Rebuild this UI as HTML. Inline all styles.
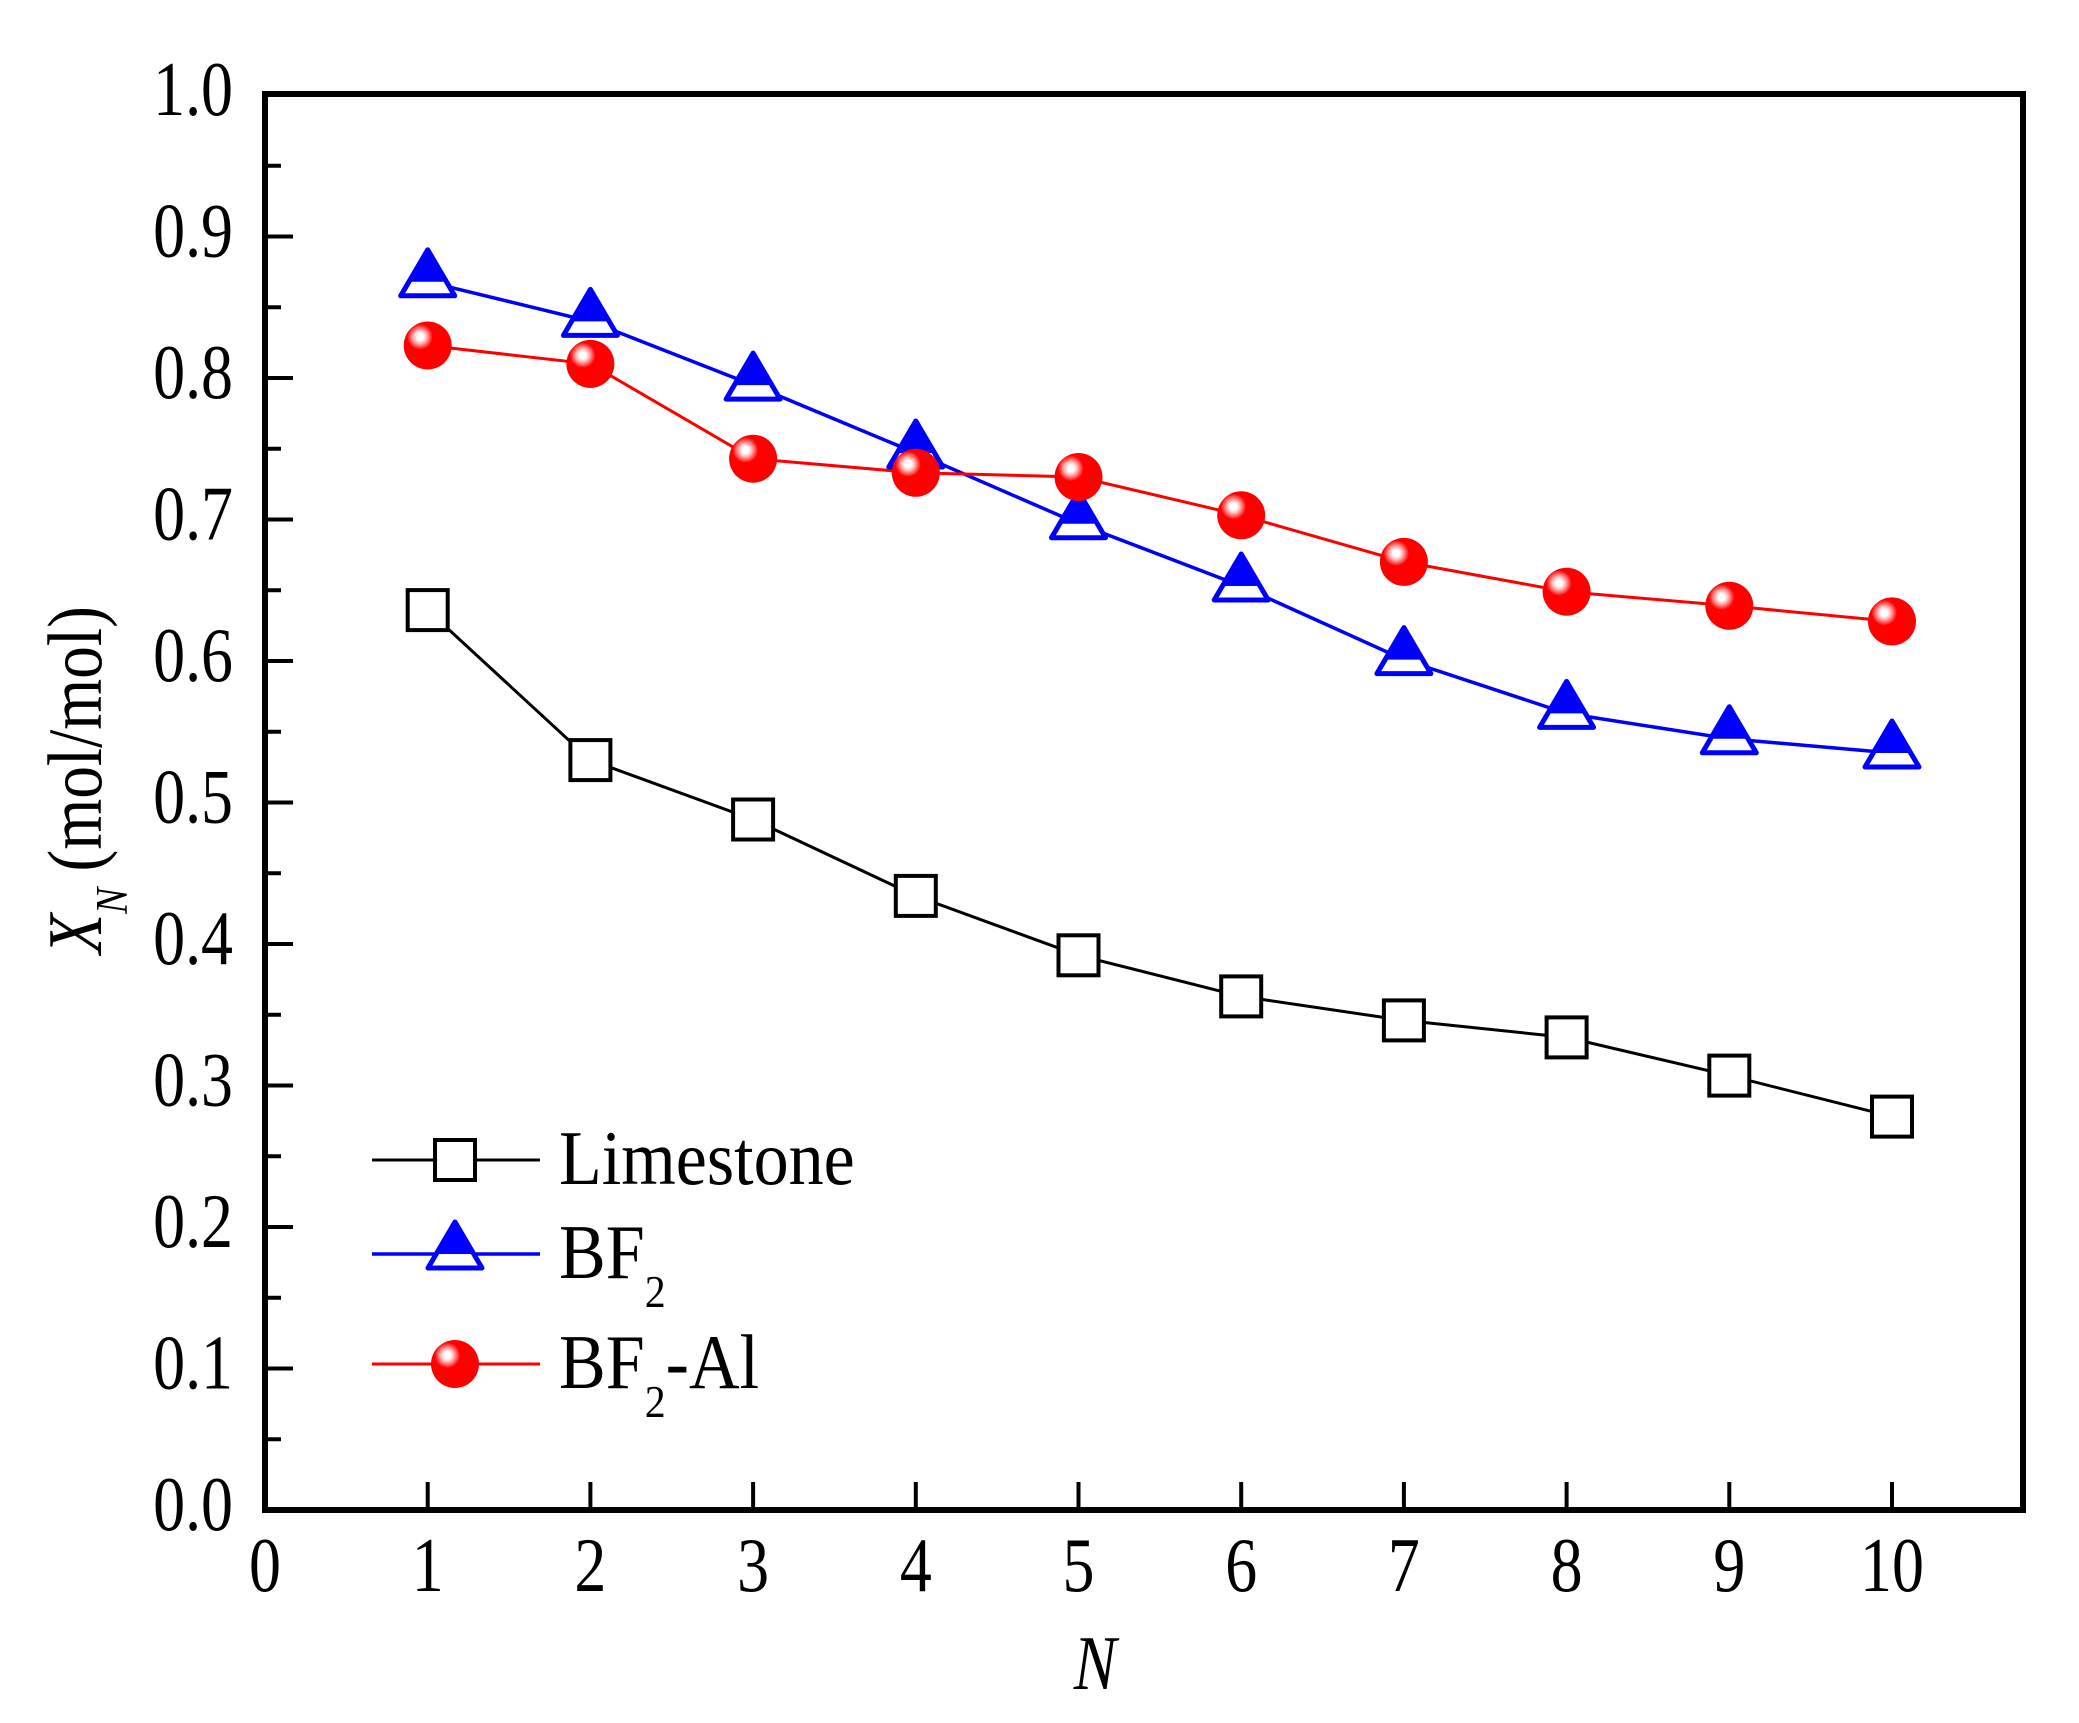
<!DOCTYPE html>
<html><head><meta charset="utf-8"><style>
html,body{margin:0;padding:0;background:#fff}
svg{display:block}
text{font-family:"Liberation Serif",serif;fill:#000}
</style></head><body>
<svg width="2079" height="1723" viewBox="0 0 2079 1723" xmlns="http://www.w3.org/2000/svg">
<defs>
<radialGradient id="g" cx="0.34" cy="0.32" r="0.7" fx="0.34" fy="0.32">
<stop offset="0" stop-color="#fff"/>
<stop offset="0.1" stop-color="#fff"/>
<stop offset="0.2" stop-color="#ffb0b0"/>
<stop offset="0.3" stop-color="#ff5050"/>
<stop offset="0.38" stop-color="#ff0000"/>
<stop offset="1" stop-color="#ff0000"/>
</radialGradient>
<g id="sq"><rect x="-20" y="-20" width="40" height="40" fill="#fff" stroke="#000" stroke-width="4"/></g>
<g id="tri"><polygon points="0,-32 -27,14 27,14" fill="#fff" stroke="#0000ff" stroke-width="5" stroke-linejoin="round"/><polygon points="0,-32 -19,0 19,0" fill="#0000ff"/></g>
<g id="cir"><circle r="24" fill="url(#g)"/></g>
</defs>

<rect x="265" y="94" width="1758" height="1416" fill="none" stroke="#000" stroke-width="6"/>

<g stroke="#000" stroke-width="4">
<line x1="265" y1="1510" x2="293" y2="1510"/><line x1="265" y1="1439.25" x2="281" y2="1439.25"/>
<line x1="265" y1="1368.5" x2="293" y2="1368.5"/><line x1="265" y1="1297.75" x2="281" y2="1297.75"/>
<line x1="265" y1="1227" x2="293" y2="1227"/><line x1="265" y1="1156.25" x2="281" y2="1156.25"/>
<line x1="265" y1="1085.5" x2="293" y2="1085.5"/><line x1="265" y1="1014.75" x2="281" y2="1014.75"/>
<line x1="265" y1="944" x2="293" y2="944"/><line x1="265" y1="873.25" x2="281" y2="873.25"/>
<line x1="265" y1="802.5" x2="293" y2="802.5"/><line x1="265" y1="731.75" x2="281" y2="731.75"/>
<line x1="265" y1="661" x2="293" y2="661"/><line x1="265" y1="590.25" x2="281" y2="590.25"/>
<line x1="265" y1="519.5" x2="293" y2="519.5"/><line x1="265" y1="448.75" x2="281" y2="448.75"/>
<line x1="265" y1="378" x2="293" y2="378"/><line x1="265" y1="307.25" x2="281" y2="307.25"/>
<line x1="265" y1="236.5" x2="293" y2="236.5"/><line x1="265" y1="165.75" x2="281" y2="165.75"/>
</g>
<g stroke="#000" stroke-width="4">
<line x1="427.7" y1="1510" x2="427.7" y2="1482"/><line x1="590.4" y1="1510" x2="590.4" y2="1482"/>
<line x1="753.1" y1="1510" x2="753.1" y2="1482"/><line x1="915.8" y1="1510" x2="915.8" y2="1482"/>
<line x1="1078.5" y1="1510" x2="1078.5" y2="1482"/><line x1="1241.2" y1="1510" x2="1241.2" y2="1482"/>
<line x1="1403.9" y1="1510" x2="1403.9" y2="1482"/><line x1="1566.6" y1="1510" x2="1566.6" y2="1482"/>
<line x1="1729.3" y1="1510" x2="1729.3" y2="1482"/><line x1="1892" y1="1510" x2="1892" y2="1482"/>
</g>

<g font-size="77" text-anchor="end">
<text transform="translate(233,1530) scale(0.83,1)">0.0</text>
<text transform="translate(233,1388.5) scale(0.83,1)">0.1</text>
<text transform="translate(233,1247) scale(0.83,1)">0.2</text>
<text transform="translate(233,1105.5) scale(0.83,1)">0.3</text>
<text transform="translate(233,964) scale(0.83,1)">0.4</text>
<text transform="translate(233,822.5) scale(0.83,1)">0.5</text>
<text transform="translate(233,681) scale(0.83,1)">0.6</text>
<text transform="translate(233,539.5) scale(0.83,1)">0.7</text>
<text transform="translate(233,398) scale(0.83,1)">0.8</text>
<text transform="translate(233,256.5) scale(0.83,1)">0.9</text>
<text transform="translate(233,115) scale(0.83,1)">1.0</text>
</g>
<g font-size="77" text-anchor="middle">
<text transform="translate(265,1591) scale(0.83,1)">0</text>
<text transform="translate(427.7,1591) scale(0.83,1)">1</text>
<text transform="translate(590.4,1591) scale(0.83,1)">2</text>
<text transform="translate(753.1,1591) scale(0.83,1)">3</text>
<text transform="translate(915.8,1591) scale(0.83,1)">4</text>
<text transform="translate(1078.5,1591) scale(0.83,1)">5</text>
<text transform="translate(1241.2,1591) scale(0.83,1)">6</text>
<text transform="translate(1403.9,1591) scale(0.83,1)">7</text>
<text transform="translate(1566.6,1591) scale(0.83,1)">8</text>
<text transform="translate(1729.3,1591) scale(0.83,1)">9</text>
<text transform="translate(1892,1591) scale(0.83,1)">10</text>
</g>

<text transform="translate(1095,1689) scale(0.83,1)" font-size="77" font-style="italic" text-anchor="middle">N</text>
<text transform="translate(101,780) rotate(-90) scale(0.85,1)" font-size="77" text-anchor="middle"><tspan font-style="italic">X</tspan><tspan font-style="italic" font-size="46" dy="26">N</tspan><tspan dy="-26"> (mol/mol)</tspan></text>

<polyline fill="none" stroke="#000" stroke-width="3" points="427.7,610.1 590.4,760.1 753.1,819.5 915.8,895.9 1078.5,955.3 1241.2,996.4 1403.9,1020.4 1566.6,1037.4 1729.3,1075.6 1892,1116.6"/>
<polyline fill="none" stroke="#0000ff" stroke-width="3.5" points="427.7,281.8 590.4,321.4 753.1,385.1 915.8,453 1078.5,523.7 1241.2,586 1403.9,659.6 1566.6,713.4 1729.3,738.8 1892,753"/>
<polyline fill="none" stroke="#ff0000" stroke-width="3" points="427.7,345.5 590.4,363.9 753.1,458.7 915.8,472.8 1078.5,477 1241.2,515.3 1403.9,561.9 1566.6,591.7 1729.3,605.8 1892,621.4"/>

<use href="#sq" x="427.7" y="610.1"/><use href="#sq" x="590.4" y="760.1"/><use href="#sq" x="753.1" y="819.5"/><use href="#sq" x="915.8" y="895.9"/><use href="#sq" x="1078.5" y="955.3"/><use href="#sq" x="1241.2" y="996.4"/><use href="#sq" x="1403.9" y="1020.4"/><use href="#sq" x="1566.6" y="1037.4"/><use href="#sq" x="1729.3" y="1075.6"/><use href="#sq" x="1892" y="1116.6"/>
<use href="#tri" x="427.7" y="281.8"/><use href="#tri" x="590.4" y="321.4"/><use href="#tri" x="753.1" y="385.1"/><use href="#tri" x="915.8" y="453"/><use href="#tri" x="1078.5" y="523.7"/><use href="#tri" x="1241.2" y="586"/><use href="#tri" x="1403.9" y="659.6"/><use href="#tri" x="1566.6" y="713.4"/><use href="#tri" x="1729.3" y="738.8"/><use href="#tri" x="1892" y="753"/>
<use href="#cir" x="427.7" y="345.5"/><use href="#cir" x="590.4" y="363.9"/><use href="#cir" x="753.1" y="458.7"/><use href="#cir" x="915.8" y="472.8"/><use href="#cir" x="1078.5" y="477"/><use href="#cir" x="1241.2" y="515.3"/><use href="#cir" x="1403.9" y="561.9"/><use href="#cir" x="1566.6" y="591.7"/><use href="#cir" x="1729.3" y="605.8"/><use href="#cir" x="1892" y="621.4"/>

<line x1="372" y1="1160" x2="540" y2="1160" stroke="#000" stroke-width="3"/>
<use href="#sq" x="455" y="1160"/>
<line x1="372" y1="1254" x2="540" y2="1254" stroke="#0000ff" stroke-width="3.5"/>
<use href="#tri" x="455" y="1254"/>
<line x1="372" y1="1364" x2="540" y2="1364" stroke="#ff0000" stroke-width="3"/>
<use href="#cir" x="455" y="1364"/>
<g font-size="77">
<text transform="translate(559,1184) scale(0.91,1)">Limestone</text>
<text transform="translate(559,1278) scale(0.91,1)">BF<tspan font-size="46" dy="29">2</tspan></text>
<text transform="translate(559,1388) scale(0.91,1)">BF<tspan font-size="46" dy="29">2</tspan><tspan dy="-29">-Al</tspan></text>
</g>
</svg>
</body></html>
